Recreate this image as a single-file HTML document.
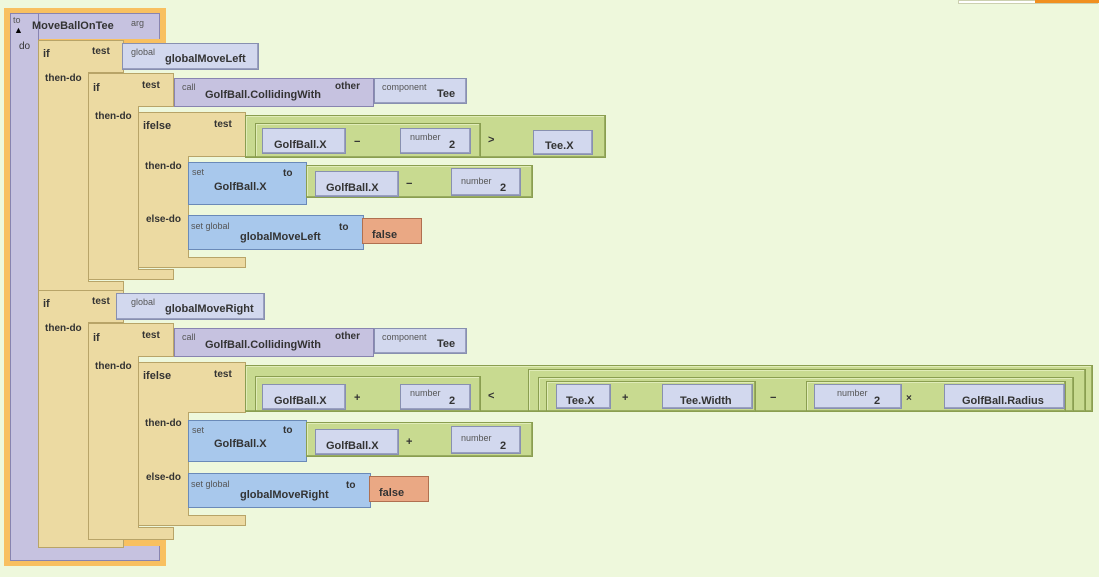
<!DOCTYPE html><html><head><style>
body{margin:0;width:1099px;height:577px;background:#eef8dc;position:relative;overflow:hidden;font-family:"Liberation Sans",sans-serif;}
div{position:absolute;box-sizing:border-box;}
.t{position:absolute;font-size:11px;font-weight:bold;color:#333;white-space:nowrap;}
.s{position:absolute;font-size:9px;color:#555;white-space:nowrap;}
.tan{background:#ecdaa2;border:1px solid #b8a468;}
.lav{background:#d2d8ee;border:1px solid #8890b0;box-shadow:inset -1px -1px 0 #9aa0c0;}
.pur{background:#c6c2e0;border:1px solid #8884b0;}
.grn{background:#c8da90;border:1px solid #8a9e50;box-shadow:inset -1px -1px 0 #98ac60,inset 1px 1px 0 #e0ecb8;}
.blu{background:#a8c8ec;border:1px solid #6a8ab8;}
.org{background:#eaa884;border:1px solid #b07050;}
.o{background:#f8c060;}
.p{background:#c6c2e0;}
</style></head><body>
<div style="left:958px;top:0;width:140px;height:4px;background:#fff;border:1px solid #ccd0b0"></div>
<div style="left:1035px;top:0;width:64px;height:3px;background:#f09020"></div>
<!-- procedure -->
<div class="o" style="left:4px;top:8px;width:162px;height:36px"></div>
<div class="o" style="left:4px;top:8px;width:10px;height:558px"></div>
<div class="o" style="left:4px;top:540px;width:162px;height:26px"></div>
<div class="p" style="left:10px;top:13px;width:150px;height:26px;border:1px solid #8884b0;border-bottom:none"></div>
<div class="p" style="left:10px;top:13px;width:29px;height:548px;border-left:1px solid #8884b0;border-right:1px solid #8884b0;border-top:1px solid #8884b0"></div>
<div class="p" style="left:10px;top:546px;width:150px;height:15px;border:1px solid #8884b0;border-top:none"></div>
<span class="s" style="left:13px;top:15px">to</span><span class="s" style="left:14px;top:25px;color:#000">▲</span>
<span class="t" style="left:32px;top:20px">MoveBallOnTee</span><span class="s" style="left:131px;top:18px">arg</span>
<span class="t" style="left:19px;top:41px;font-weight:normal;font-size:10px">do</span>

<!-- IF 1 -->
<div class="tan" style="left:38px;top:40px;width:86px;height:252px"></div>
<div style="left:88px;top:72px;width:36px;height:210px;background:#eef8dc;border-left:1px solid #b8a468;border-top:1px solid #b8a468;border-bottom:1px solid #b8a468"></div>
<span class="t" style="left:43px;top:48px">if</span><span class="t" style="left:92px;top:46px;font-size:10px">test</span>
<span class="t" style="left:45px;top:73px;font-size:10px">then-do</span>
<div class="lav" style="left:122px;top:43px;width:137px;height:27px"></div>
<span class="s" style="left:131px;top:47px">global</span><span class="t" style="left:165px;top:53px">globalMoveLeft</span>

<!-- IF 2 -->
<div class="tan" style="left:88px;top:73px;width:86px;height:207px"></div>
<div style="left:138px;top:106px;width:36px;height:164px;background:#eef8dc;border-left:1px solid #b8a468;border-top:1px solid #b8a468;border-bottom:1px solid #b8a468"></div>
<span class="t" style="left:93px;top:82px">if</span><span class="t" style="left:142px;top:80px;font-size:10px">test</span>
<span class="t" style="left:95px;top:111px;font-size:10px">then-do</span>
<div class="pur" style="left:174px;top:78px;width:200px;height:29px"></div>
<span class="s" style="left:182px;top:82px">call</span><span class="t" style="left:205px;top:89px">GolfBall.CollidingWith</span>
<span class="t" style="left:335px;top:81px;font-size:10px">other</span>
<div class="lav" style="left:374px;top:78px;width:93px;height:26px"></div>
<span class="s" style="left:382px;top:82px">component</span><span class="t" style="left:437px;top:88px">Tee</span>

<!-- IFELSE 1 -->
<div class="tan" style="left:138px;top:112px;width:108px;height:156px"></div>
<div style="left:188px;top:156px;width:58px;height:102px;background:#eef8dc;border-left:1px solid #b8a468;border-top:1px solid #b8a468;border-bottom:1px solid #b8a468"></div>
<span class="t" style="left:143px;top:120px">ifelse</span><span class="t" style="left:214px;top:119px;font-size:10px">test</span>
<span class="t" style="left:145px;top:161px;font-size:10px">then-do</span><span class="t" style="left:146px;top:214px;font-size:10px">else-do</span>
<div class="grn" style="left:245px;top:115px;width:361px;height:43px"></div>
<div class="grn" style="left:255px;top:123px;width:226px;height:35px"></div>
<div class="lav" style="left:262px;top:128px;width:84px;height:26px"></div><span class="t" style="left:274px;top:139px">GolfBall.X</span>
<span class="t" style="left:354px;top:136px">−</span>
<div class="lav" style="left:400px;top:128px;width:71px;height:26px"></div><span class="s" style="left:410px;top:132px">number</span><span class="t" style="left:449px;top:139px">2</span>
<span class="t" style="left:488px;top:134px">&gt;</span>
<div class="lav" style="left:533px;top:130px;width:60px;height:25px"></div><span class="t" style="left:545px;top:140px">Tee.X</span>
<div class="blu" style="left:188px;top:162px;width:119px;height:43px"></div>
<span class="s" style="left:192px;top:167px">set</span><span class="t" style="left:283px;top:168px;font-size:10px">to</span><span class="t" style="left:214px;top:181px">GolfBall.X</span>
<div class="grn" style="left:306px;top:165px;width:227px;height:33px"></div>
<div class="lav" style="left:315px;top:171px;width:84px;height:26px"></div><span class="t" style="left:326px;top:182px">GolfBall.X</span>
<span class="t" style="left:406px;top:178px">−</span>
<div class="lav" style="left:451px;top:168px;width:70px;height:28px"></div><span class="s" style="left:461px;top:176px">number</span><span class="t" style="left:500px;top:182px">2</span>
<div class="blu" style="left:188px;top:215px;width:176px;height:35px"></div>
<span class="s" style="left:191px;top:221px">set global</span><span class="t" style="left:240px;top:231px">globalMoveLeft</span><span class="t" style="left:339px;top:222px;font-size:10px">to</span>
<div class="org" style="left:362px;top:218px;width:60px;height:26px"></div><span class="t" style="left:372px;top:229px">false</span>

<!-- IF 1b -->
<div class="tan" style="left:38px;top:290px;width:86px;height:258px"></div>
<div style="left:88px;top:322px;width:36px;height:218px;background:#eef8dc;border-left:1px solid #b8a468;border-top:1px solid #b8a468;border-bottom:1px solid #b8a468"></div>
<span class="t" style="left:43px;top:298px">if</span><span class="t" style="left:92px;top:296px;font-size:10px">test</span>
<span class="t" style="left:45px;top:323px;font-size:10px">then-do</span>
<div class="lav" style="left:116px;top:293px;width:149px;height:27px"></div>
<span class="s" style="left:131px;top:297px">global</span><span class="t" style="left:165px;top:303px">globalMoveRight</span>

<!-- IF 2b -->
<div class="tan" style="left:88px;top:323px;width:86px;height:217px"></div>
<div style="left:138px;top:356px;width:36px;height:172px;background:#eef8dc;border-left:1px solid #b8a468;border-top:1px solid #b8a468;border-bottom:1px solid #b8a468"></div>
<span class="t" style="left:93px;top:332px">if</span><span class="t" style="left:142px;top:330px;font-size:10px">test</span>
<span class="t" style="left:95px;top:361px;font-size:10px">then-do</span>
<div class="pur" style="left:174px;top:328px;width:200px;height:29px"></div>
<span class="s" style="left:182px;top:332px">call</span><span class="t" style="left:205px;top:339px">GolfBall.CollidingWith</span>
<span class="t" style="left:335px;top:331px;font-size:10px">other</span>
<div class="lav" style="left:374px;top:328px;width:93px;height:26px"></div>
<span class="s" style="left:382px;top:332px">component</span><span class="t" style="left:437px;top:338px">Tee</span>

<!-- IFELSE 2 -->
<div class="tan" style="left:138px;top:362px;width:108px;height:164px"></div>
<div style="left:188px;top:412px;width:58px;height:104px;background:#eef8dc;border-left:1px solid #b8a468;border-top:1px solid #b8a468;border-bottom:1px solid #b8a468"></div>
<span class="t" style="left:143px;top:370px">ifelse</span><span class="t" style="left:214px;top:369px;font-size:10px">test</span>
<span class="t" style="left:145px;top:418px;font-size:10px">then-do</span><span class="t" style="left:146px;top:472px;font-size:10px">else-do</span>
<div class="grn" style="left:245px;top:365px;width:848px;height:47px"></div>
<div class="grn" style="left:255px;top:376px;width:226px;height:36px"></div>
<div class="lav" style="left:262px;top:384px;width:84px;height:26px"></div><span class="t" style="left:274px;top:395px">GolfBall.X</span>
<span class="t" style="left:354px;top:392px">+</span>
<div class="lav" style="left:400px;top:384px;width:71px;height:26px"></div><span class="s" style="left:410px;top:388px">number</span><span class="t" style="left:449px;top:395px">2</span>
<span class="t" style="left:488px;top:390px">&lt;</span>
<div class="grn" style="left:528px;top:369px;width:558px;height:43px"></div>
<div class="grn" style="left:538px;top:377px;width:536px;height:35px"></div>
<div class="grn" style="left:546px;top:381px;width:210px;height:31px"></div>
<div class="lav" style="left:556px;top:384px;width:55px;height:25px"></div><span class="t" style="left:566px;top:395px">Tee.X</span>
<span class="t" style="left:622px;top:392px">+</span>
<div class="lav" style="left:662px;top:384px;width:91px;height:25px"></div><span class="t" style="left:680px;top:395px">Tee.Width</span>
<span class="t" style="left:770px;top:392px">−</span>
<div class="grn" style="left:806px;top:381px;width:260px;height:31px"></div>
<div class="lav" style="left:814px;top:384px;width:88px;height:25px"></div><span class="s" style="left:837px;top:388px">number</span><span class="t" style="left:874px;top:395px">2</span>
<span class="t" style="left:906px;top:393px;font-size:10px">×</span>
<div class="lav" style="left:944px;top:384px;width:121px;height:25px"></div><span class="t" style="left:962px;top:395px">GolfBall.Radius</span>
<div class="blu" style="left:188px;top:420px;width:119px;height:42px"></div>
<span class="s" style="left:192px;top:425px">set</span><span class="t" style="left:283px;top:425px;font-size:10px">to</span><span class="t" style="left:214px;top:438px">GolfBall.X</span>
<div class="grn" style="left:306px;top:422px;width:227px;height:35px"></div>
<div class="lav" style="left:315px;top:429px;width:84px;height:26px"></div><span class="t" style="left:326px;top:440px">GolfBall.X</span>
<span class="t" style="left:406px;top:436px">+</span>
<div class="lav" style="left:451px;top:426px;width:70px;height:28px"></div><span class="s" style="left:461px;top:433px">number</span><span class="t" style="left:500px;top:440px">2</span>
<div class="blu" style="left:188px;top:473px;width:183px;height:35px"></div>
<span class="s" style="left:191px;top:479px">set global</span><span class="t" style="left:240px;top:489px">globalMoveRight</span><span class="t" style="left:346px;top:480px;font-size:10px">to</span>
<div class="org" style="left:369px;top:476px;width:60px;height:26px"></div><span class="t" style="left:379px;top:487px">false</span>
</body></html>
